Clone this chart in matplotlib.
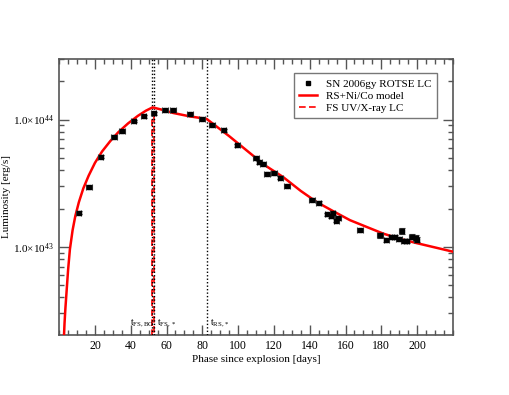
import numpy as np
import matplotlib
matplotlib.use("Agg")
import matplotlib.pyplot as plt
from matplotlib.lines import Line2D
from matplotlib.ticker import FixedLocator, MultipleLocator, FuncFormatter, NullFormatter, LogLocator

plt.rcParams['font.family'] = ['Liberation Serif', 'DejaVu Serif']
plt.rcParams['mathtext.fontset'] = 'custom'
plt.rcParams['mathtext.rm'] = 'Liberation Serif'
plt.rcParams['mathtext.it'] = 'Liberation Serif:italic'

# ROTSE light curve of SN 2006gy (luminosity in units of 1e43 erg/s)
phase = [10.9, 16.7, 23.2, 30.7, 35.2, 41.6, 47.2, 52.8, 59.1, 63.7,
         73.1, 79.8, 85.5, 92.0, 99.5, 109.9, 111.8, 114.0, 116.2, 120.0,
         123.6, 127.4, 141.2, 145.0, 149.8, 152.8, 152.0, 154.8, 155.8, 168.0,
         179.2, 182.8, 185.6, 187.5, 189.8, 191.4, 192.6, 194.1, 197.0, 199.2,
         199.8]
lum = [1.86, 2.95, 5.1, 7.35, 8.1, 9.75, 10.6, 11.25, 11.8, 11.8,
       11.05, 10.1, 9.1, 8.25, 6.3, 4.98, 4.6, 4.5, 3.76, 3.8,
       3.49, 2.98, 2.35, 2.22, 1.8, 1.84, 1.75, 1.61, 1.67, 1.35,
       1.23, 1.14, 1.19, 1.20, 1.16, 1.34, 1.11, 1.12, 1.20, 1.18,
       1.14]
lum_err = [0.05, 0.08, 0.13, 0.2, 0.22, 0.25, 0.28, 0.3, 0.3, 0.3,
           0.28, 0.26, 0.24, 0.22, 0.17, 0.14, 0.13, 0.12, 0.1, 0.1,
           0.09, 0.08, 0.06, 0.06, 0.05, 0.05, 0.05, 0.05, 0.05, 0.04,
           0.05, 0.04, 0.04, 0.04, 0.04, 0.07, 0.04, 0.04, 0.05, 0.05,
           0.05]
phase_err = [1.5] * len(phase)

# RS+Ni/Co model curve (1e43 erg/s)
model_t = [2.5, 2.7, 3.0, 3.5, 4.2, 5.0, 6.0, 7.5, 9.0, 11.0, 13.5, 16.5, 20.0,
           24.0, 28.5, 33.0, 38.5, 44.0, 48.5, 52.2, 58.0, 63.7, 73.1, 82.4,
           95.0, 106.6, 115.0, 125.2, 135.0, 143.9, 153.0, 162.5, 172.0, 181.1,
           190.0, 199.7, 210.0, 220.0]
model_L = [0.15, 0.2, 0.251, 0.331, 0.457, 0.661, 0.955, 1.35, 1.74, 2.24, 2.88,
           3.63, 4.57, 5.62, 6.76, 7.94, 9.33, 10.7, 11.75, 12.47, 11.9, 11.27,
           10.59, 10.12, 7.41, 5.45, 4.37, 3.53, 2.75, 2.25, 1.91, 1.62, 1.43,
           1.27, 1.16, 1.07, 0.989, 0.916]

# FS UV/X-ray light curve (narrow pulse)
fs_t = [51.7, 51.7, 53.0, 53.0]
fs_L = [0.01, 11.5, 11.5, 0.01]

# characteristic times
t_marks = [51.7, 53.0, 82.4]
t_labels = [r'$\mathrm{t_{FS,BO}}$', r'$\mathrm{t_{FS,*}}$', r'$\mathrm{t_{RS,*}}$']
t_label_x = [39.8, 54.8, 84.2]

scale = 1e43

fig = plt.figure(figsize=(5.1, 3.95), dpi=100)
ax = fig.add_axes([0.116, 0.152, 0.772, 0.699])

for t in t_marks:
    ax.axvline(t, color='black', linestyle=(0, (1, 1.5)), linewidth=1.0, zorder=4)

ax.plot(fs_t, np.array(fs_L) * scale, color='red', linestyle=(0, (4, 2)),
        linewidth=1.2, zorder=3)
ax.plot(model_t, np.array(model_L) * scale, color='red', linewidth=1.8, zorder=5)
ax.errorbar(phase, np.array(lum) * scale, xerr=phase_err, yerr=np.array(lum_err) * scale,
            fmt='s', color='black', ms=2.6, ecolor='#333333', elinewidth=0.8,
            capsize=2, capthick=0.8, zorder=6)

for lab, xl in zip(t_labels, t_label_x):
    ax.text(xl, 2.45e42, lab, fontsize=7, ha='left', va='baseline')

ax.set_yscale('log')
ax.set_xlim(0, 220)
ax.set_ylim(2.03e42, 3.0e44)

ax.xaxis.set_major_locator(FixedLocator(list(range(20, 201, 20))))
ax.xaxis.set_minor_locator(MultipleLocator(5))
ax.yaxis.set_major_locator(FixedLocator([1e43, 1e44]))
ax.yaxis.set_minor_locator(LogLocator(base=10, subs=np.arange(2, 10)))
ax.yaxis.set_minor_formatter(NullFormatter())
ax.yaxis.set_major_formatter(FuncFormatter(
    lambda v, p: r'$\mathrm{1.0{\times}10^{%d}}$' % int(round(np.log10(v)))))

ax.tick_params(which='both', direction='in', top=True, right=True,
               color='#555555', labelsize=8)
ax.tick_params(axis='x', labelsize=8.5)
ax.tick_params(which='major', length=7, width=1)
ax.tick_params(which='minor', length=3.5, width=1)
for s in ax.spines.values():
    s.set_color('#555555')
    s.set_linewidth(1.2)

ax.set_xlabel('Phase since explosion [days]', fontsize=8, labelpad=2)
ax.set_ylabel('Luminosity [erg/s]', fontsize=8)
ax.yaxis.set_label_coords(-0.122, 0.5)

handles = [
    Line2D([], [], marker='s', color='black', linestyle='none', ms=2.6),
    Line2D([], [], color='red', linewidth=1.8),
    Line2D([], [], color='red', linewidth=1.2, linestyle=(0, (4, 2))),
]
leg = ax.legend(handles, ['SN 2006gy ROTSE LC', 'RS+Ni/Co model', 'FS UV/X-ray LC'],
                loc='upper right', bbox_to_anchor=(0.96, 0.948), borderaxespad=0,
                fontsize=8, fancybox=False, handlelength=1.6, labelspacing=0.2,
                borderpad=0.5)
leg.get_frame().set_edgecolor('#555555')
leg.get_frame().set_linewidth(1.0)

fig.savefig('out.png', dpi=100)
